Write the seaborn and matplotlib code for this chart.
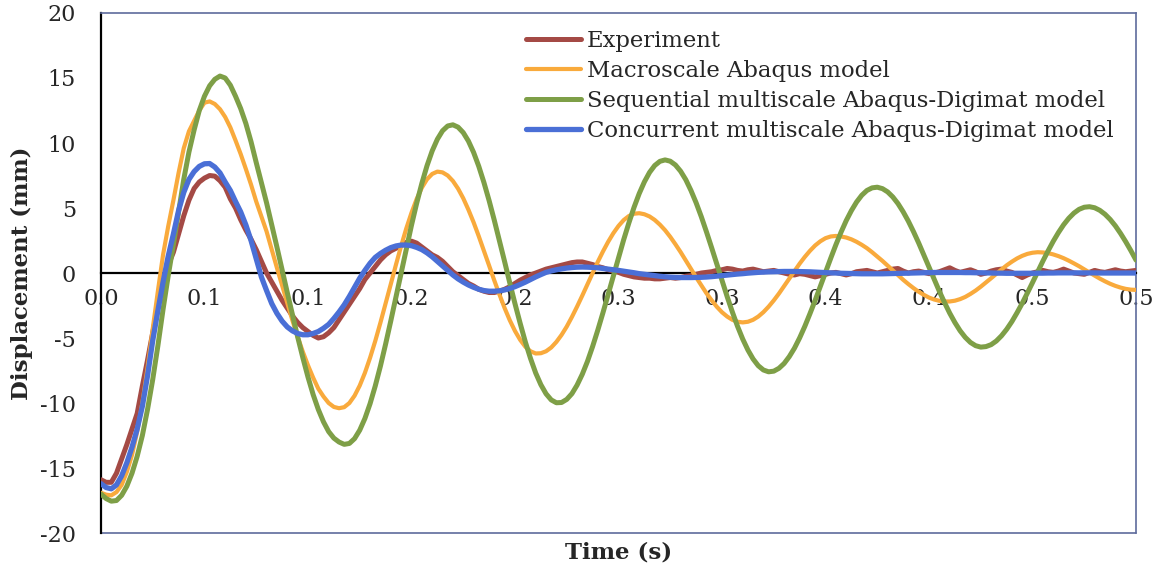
import numpy as np
import pandas as pd
import matplotlib
matplotlib.use("Agg")
import matplotlib.pyplot as plt
import seaborn as sns

# ---- data (displacement in mm, sampled every 2.5 ms from 0 to 0.5 s) ----
time = np.round(np.arange(0, 0.50001, 0.0025), 4)

experiment = [
    -15.9, -16.1, -16.1, -15.4, -14.3, -13.2, -12.0, -10.8, -8.7, -6.7,
    -4.6, -2.6, -0.7, 0.6, 1.6, 3.0, 4.4, 5.6, 6.5, 7.0,
    7.3, 7.5, 7.45, 7.1, 6.6, 5.7, 5.0, 4.1, 3.3, 2.6,
    1.8, 0.9, 0.0, -0.7, -1.4, -2.1, -2.7, -3.3, -3.8, -4.2,
    -4.5, -4.8, -5.0, -4.9, -4.6, -4.2, -3.6, -3.0, -2.4, -1.8,
    -1.2, -0.5, 0.0, 0.5, 1.0, 1.4, 1.7, 1.9, 2.1, 2.35,
    2.45, 2.3, 2.0, 1.7, 1.4, 1.2, 0.9, 0.5, 0.1, -0.2,
    -0.5, -0.8, -1.0, -1.25, -1.4, -1.5, -1.5, -1.4, -1.25, -1.05,
    -0.8, -0.55, -0.35, -0.15, 0.0, 0.15, 0.3, 0.4, 0.5, 0.6,
    0.7, 0.8, 0.85, 0.85, 0.75, 0.65, 0.5, 0.4, 0.25, 0.15,
    0.05, -0.1, -0.2, -0.3, -0.35, -0.4, -0.4, -0.45, -0.45, -0.4,
    -0.35, -0.4, -0.35, -0.25, -0.2, -0.1, 0.0, 0.05, 0.1, 0.2,
    0.25, 0.35, 0.3, 0.2, 0.15, 0.25, 0.3, 0.2, 0.1, 0.15,
    0.2, 0.1, 0.0, -0.1, -0.15, -0.05, -0.1, -0.2, -0.3, -0.2,
    -0.1, 0.0, 0.05, -0.05, -0.15, -0.05, 0.1, 0.15, 0.2, 0.1,
    0.0, 0.1, 0.2, 0.3, 0.35, 0.15, 0.0, 0.1, 0.15, 0.05,
    -0.05, 0.0, 0.1, 0.25, 0.4, 0.2, 0.05, 0.15, 0.25, 0.1,
    -0.1, 0.0, 0.15, 0.25, 0.3, 0.15, 0.05, -0.15, -0.35, -0.15,
    0.0, 0.1, 0.2, 0.1, 0.05, 0.15, 0.3, 0.15, 0.0, -0.05,
    -0.1, 0.05, 0.2, 0.1, 0.05, 0.15, 0.25, 0.15, 0.1, 0.15,
    0.2,
]

macroscale = [
    -16.9, -17.05, -17.1, -16.85, -16.3, -15.3, -14.0, -12.2, -10.0, -7.3,
    -4.3, -1.4, 1.4, 3.6, 5.6, 7.7, 9.6, 10.9, 11.7, 12.5,
    13.1, 13.2, 13.0, 12.6, 12.0, 11.2, 10.2, 9.15, 8.0, 6.8,
    5.5, 4.35, 3.2, 1.8, 0.4, -0.95, -2.3, -3.65, -4.9, -6.05,
    -7.1, -8.05, -8.9, -9.5, -10.0, -10.3, -10.4, -10.32, -10.0, -9.44,
    -8.66, -7.68, -6.52, -5.23, -3.82, -2.35, -0.86, 0.64, 2.08, 3.43,
    4.63, 5.69, 6.56, 7.21, 7.62, 7.80, 7.74, 7.50, 7.08, 6.49,
    5.75, 4.87, 3.90, 2.83, 1.71, 0.57, -0.57, -1.66, -2.70, -3.64,
    -4.46, -5.14, -5.67, -6.02, -6.19, -6.17, -6.02, -5.73, -5.30, -4.76,
    -4.12, -3.38, -2.58, -1.74, -0.87, 0.01, 0.86, 1.66, 2.40, 3.06,
    3.62, 4.07, 4.38, 4.56, 4.60, 4.52, 4.35, 4.08, 3.72, 3.29,
    2.78, 2.21, 1.61, 0.97, 0.32, -0.33, -0.95, -1.56, -2.10, -2.60,
    -3.02, -3.35, -3.60, -3.75, -3.80, -3.75, -3.60, -3.35, -3.01, -2.59,
    -2.11, -1.58, -1.01, -0.43, 0.15, 0.72, 1.24, 1.71, 2.12, 2.44,
    2.68, 2.81, 2.85, 2.81, 2.73, 2.59, 2.40, 2.17, 1.91, 1.60,
    1.27, 0.93, 0.57, 0.20, -0.16, -0.52, -0.85, -1.16, -1.44, -1.68,
    -1.89, -2.04, -2.14, -2.19, -2.19, -2.13, -2.01, -1.84, -1.61, -1.35,
    -1.05, -0.73, -0.40, -0.06, 0.27, 0.59, 0.87, 1.12, 1.32, 1.47,
    1.56, 1.60, 1.58, 1.53, 1.43, 1.30, 1.14, 0.95, 0.74, 0.52,
    0.28, 0.04, -0.20, -0.43, -0.64, -0.83, -0.99, -1.12, -1.22, -1.28,
    -1.30,
]

sequential = [
    -17.0, -17.35, -17.55, -17.5, -17.1, -16.4, -15.4, -14.1, -12.5, -10.5,
    -8.2, -5.6, -2.8, -0.2, 2.2, 4.7, 7.2, 9.3, 11.0, 12.5,
    13.6, 14.4, 14.9, 15.15, 15.0, 14.45, 13.6, 12.65, 11.5, 10.1,
    8.5, 6.95, 5.4, 3.7, 2.0, 0.25, -1.5, -3.2, -4.9, -6.5,
    -8.0, -9.35, -10.5, -11.45, -12.2, -12.7, -13.0, -13.18, -13.11, -12.74,
    -12.09, -11.19, -10.05, -8.69, -7.16, -5.47, -3.69, -1.84, 0.04, 1.89,
    3.67, 5.36, 6.89, 8.25, 9.39, 10.29, 10.94, 11.31, 11.40, 11.22,
    10.80, 10.15, 9.28, 8.21, 6.96, 5.57, 4.06, 2.48, 0.87, -0.77,
    -2.36, -3.87, -5.30, -6.57, -7.69, -8.59, -9.29, -9.76, -9.98, -9.96,
    -9.72, -9.28, -8.62, -7.79, -6.80, -5.65, -4.39, -3.05, -1.64, -0.23,
    1.20, 2.56, 3.85, 5.05, 6.11, 7.01, 7.74, 8.27, 8.59, 8.70,
    8.60, 8.31, 7.83, 7.18, 6.35, 5.40, 4.33, 3.16, 1.94, 0.68,
    -0.58, -1.82, -3.00, -4.10, -5.08, -5.92, -6.61, -7.13, -7.46, -7.60,
    -7.55, -7.33, -6.96, -6.43, -5.78, -4.99, -4.10, -3.12, -2.10, -1.02,
    0.07, 1.13, 2.17, 3.14, 4.03, 4.80, 5.46, 5.98, 6.35, 6.55,
    6.60, 6.49, 6.24, 5.85, 5.34, 4.71, 3.99, 3.18, 2.31, 1.39,
    0.45, -0.49, -1.41, -2.28, -3.09, -3.81, -4.44, -4.95, -5.34, -5.59,
    -5.70, -5.66, -5.51, -5.23, -4.83, -4.33, -3.74, -3.06, -2.33, -1.54,
    -0.73, 0.10, 0.92, 1.70, 2.44, 3.11, 3.71, 4.21, 4.61, 4.90,
    5.06, 5.10, 5.02, 4.82, 4.52, 4.12, 3.63, 3.05, 2.41, 1.72,
    0.99,
]

concurrent = [
    -16.2, -16.5, -16.6, -16.3, -15.6, -14.6, -13.4, -12.0, -10.25, -7.9,
    -5.2, -2.9, -0.7, 1.3, 3.0, 4.8, 6.2, 7.2, 7.8, 8.2,
    8.4, 8.42, 8.15, 7.7, 7.0, 6.35, 5.5, 4.7, 3.7, 2.5,
    1.1, -0.3, -1.35, -2.35, -3.1, -3.7, -4.15, -4.45, -4.65, -4.75,
    -4.75, -4.65, -4.5, -4.25, -3.95, -3.5, -3.0, -2.45, -1.8, -1.1,
    -0.4, 0.2, 0.75, 1.2, 1.5, 1.75, 1.95, 2.08, 2.15, 2.15,
    2.1, 1.97, 1.8, 1.55, 1.25, 0.9, 0.55, 0.2, -0.15, -0.45,
    -0.7, -0.92, -1.1, -1.25, -1.35, -1.4, -1.4, -1.37, -1.3, -1.19,
    -1.05, -0.88, -0.7, -0.5, -0.3, -0.12, 0.05, 0.16, 0.25, 0.32,
    0.38, 0.42, 0.45, 0.46, 0.45, 0.43, 0.4, 0.35, 0.3, 0.25,
    0.2, 0.14, 0.08, 0.02, -0.05, -0.1, -0.15, -0.2, -0.25, -0.29,
    -0.32, -0.34, -0.35, -0.35, -0.35, -0.34, -0.33, -0.31, -0.28, -0.24,
    -0.2, -0.16, -0.12, -0.08, -0.05, -0.01, 0.02, 0.05, 0.07, 0.09,
    0.1, 0.11, 0.12, 0.12, 0.12, 0.11, 0.1, 0.09, 0.07, 0.05,
    0.03, 0.01, 0.0, -0.02, -0.03, -0.04, -0.05, -0.06, -0.06, -0.06,
    -0.06, -0.06, -0.05, -0.04, -0.03, -0.02, -0.01, 0.0, 0.01, 0.02,
    0.03, 0.04, 0.04, 0.04, 0.04, 0.04, 0.04, 0.03, 0.03, 0.02,
    0.02, 0.01, 0.0, -0.01, -0.01, -0.02, -0.02, -0.02, -0.02, -0.02,
    -0.02, -0.01, -0.01, 0.0, 0.0, 0.01, 0.01, 0.01, 0.01, 0.01,
    0.01, 0.01, 0.01, 0.0, 0.0, 0.0, 0.0, 0.0, 0.0, 0.0,
    0.0,
]

series_names = [
    "Experiment",
    "Macroscale Abaqus model",
    "Sequential multiscale Abaqus-Digimat model",
    "Concurrent multiscale Abaqus-Digimat model",
]
series_values = [experiment, macroscale, sequential, concurrent]

x_tick_values = [0.0, 0.05, 0.1, 0.15, 0.2, 0.25, 0.3, 0.35, 0.4, 0.45, 0.5]
x_tick_labels = ["0.0", "0.1", "0.1", "0.2", "0.2", "0.3", "0.3",
                 "0.4", "0.4", "0.5", "0.5"]
y_tick_values = [-20, -15, -10, -5, 0, 5, 10, 15, 20]

# ---- styling ----------------------------------------------------------
colors = ["#a44a45", "#f9aa3c", "#7e9f47", "#4a6fd6"]
widths = [3.6, 3.0, 3.6, 3.8]
frame_color = "#5d6b9c"
text_color = "#262626"

sns.set_style("white")
plt.rcParams["font.family"] = ["DejaVu Serif", "DejaVu Sans"]
plt.rcParams["axes.unicode_minus"] = False

df = pd.concat(
    [pd.DataFrame({"Time": time, "Displacement": vals, "Series": name})
     for name, vals in zip(series_names, series_values)],
    ignore_index=True,
)

fig = plt.figure(figsize=(11.59, 5.75), dpi=100)
ax = fig.add_axes([0.0871, 0.0730, 0.8931, 0.9044])

for name, col, lw in zip(series_names, colors, widths):
    sub = df[df["Series"] == name]
    sns.lineplot(data=sub, x="Time", y="Displacement", ax=ax, color=col,
                 linewidth=lw, label=name, sort=False, zorder=3,
                 solid_capstyle="round", solid_joinstyle="round")

ax.set_xlim(0, 0.5)
ax.set_ylim(-20, 20)

# axis lines: black value axes, thin slate frame around the plot area
ax.spines["bottom"].set_position(("data", 0))
ax.spines["bottom"].set_color("black")
ax.spines["bottom"].set_linewidth(1.6)
ax.spines["left"].set_color("black")
ax.spines["left"].set_linewidth(1.6)
for side in ("top", "right"):
    ax.spines[side].set_color(frame_color)
    ax.spines[side].set_linewidth(1.2)
ax.plot([0, 1], [0, 0], transform=ax.transAxes, color=frame_color,
        linewidth=1.2, clip_on=False, zorder=2)

ax.set_xticks(x_tick_values)
ax.set_xticklabels(x_tick_labels)
ax.set_xticks(np.round(np.arange(0, 0.5001, 0.01), 2), minor=True)
ax.set_yticks(y_tick_values)
ax.set_yticks(np.arange(-20, 21, 1), minor=True)

ax.tick_params(axis="x", which="both", direction="out", length=4.5,
               width=1.2, color="black", labelsize=16, pad=6,
               labelcolor=text_color)
ax.tick_params(axis="y", which="major", direction="out", length=6,
               width=1.2, color="black", labelsize=16, pad=12,
               labelcolor=text_color)
ax.tick_params(axis="y", which="minor", direction="out", length=3.5,
               width=1.2, color="black")

ax.set_xlabel("")
ax.set_ylabel("")
fig.text(618.5 / 1159, 1 - 553 / 575, "Time (s)", ha="center", va="center",
         fontsize=16.5, fontweight="bold", color=text_color)
fig.text(22 / 1159, 1 - 273 / 575, "Displacement (mm)", ha="center",
         va="center", rotation=90, fontsize=16.5, fontweight="bold",
         color=text_color)

ax.legend(loc="upper left", bbox_to_anchor=(0.411, 0.968), frameon=False,
          fontsize=16.4, handlelength=2.4, handletextpad=0.25,
          labelspacing=0.36, borderaxespad=0, borderpad=0,
          labelcolor=text_color)

fig.savefig("out.png", dpi=100)
